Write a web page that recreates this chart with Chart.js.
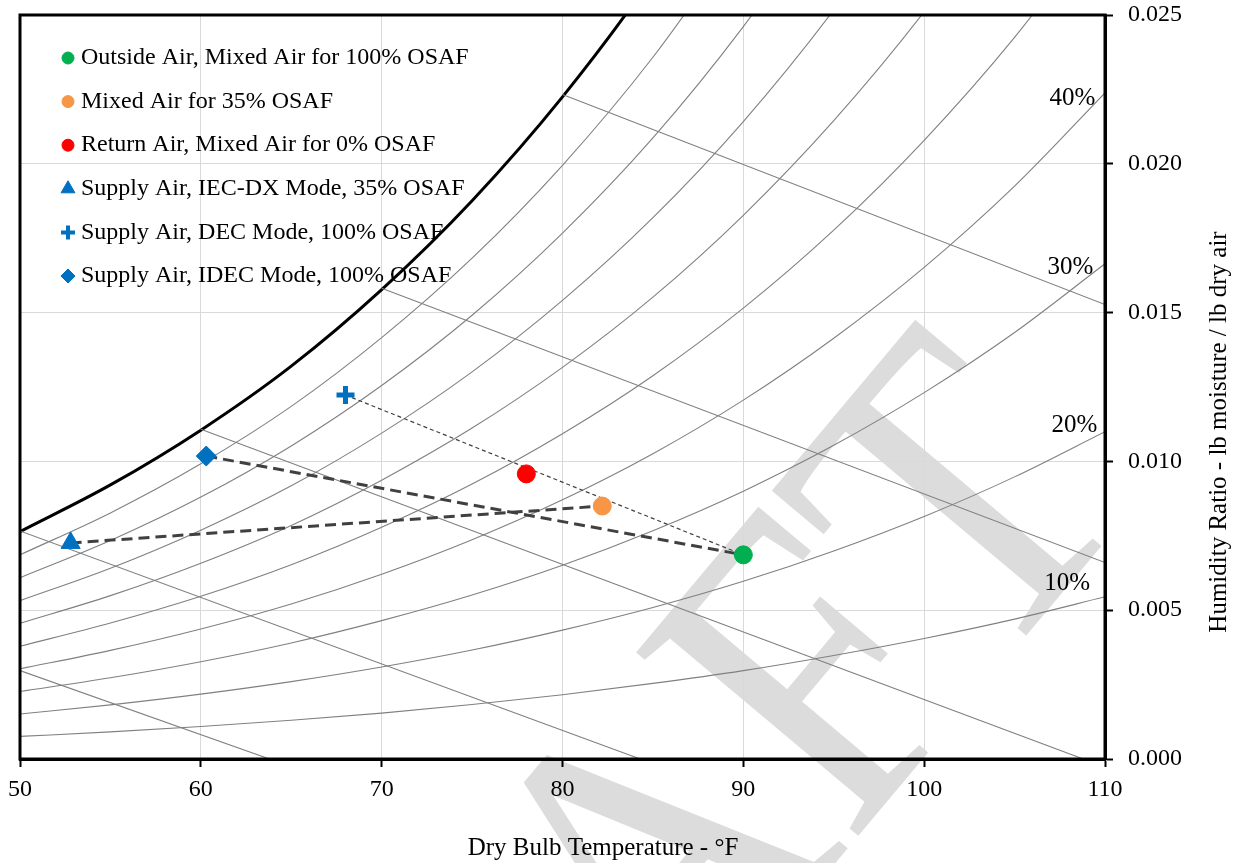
<!DOCTYPE html>
<html>
<head>
<meta charset="utf-8">
<script src="https://cdn.jsdelivr.net/npm/chart.js@4.4.1/dist/chart.umd.min.js"></script>
<style>
	html, body { margin: 0; padding: 0; background: #fff; }
	#wrap { width: 1239px; height: 863px; }
</style>
</head>
<body>
<div id="wrap"><canvas id="chart" width="1239" height="863"></canvas></div>
<script>
// dry bulb temperatures (°F) used for the relative humidity curves
const tempF = [50, 55, 60, 65, 70, 75, 80, 85, 90, 95, 100, 105, 110];

// humidity ratio (lb/lb)
const rh100 = [0.00764, 0.00921, 0.01105, 0.01320, 0.01577, 0.01876, 0.02225, 0.02631, 0.03106];
const rh90 = [0.00686, 0.00827, 0.00992, 0.01185, 0.01416, 0.01683, 0.01995, 0.02358, 0.02782];
const rh80 = [0.00609, 0.00734, 0.00880, 0.01052, 0.01255, 0.01491, 0.01767, 0.02087, 0.02461, 0.02893];
const rh70 = [0.00532, 0.00641, 0.00769, 0.00918, 0.01095, 0.01301, 0.01541, 0.01819, 0.02142, 0.02517, 0.02949];
const rh60 = [0.00456, 0.00549, 0.00658, 0.00785, 0.00937, 0.01112, 0.01316, 0.01552, 0.01827, 0.02145, 0.02511, 0.02933];
const rh50 = [0.00379, 0.00457, 0.00547, 0.00653, 0.00779, 0.00924, 0.01093, 0.01288, 0.01515, 0.01777, 0.02079, 0.02425, 0.02824];
const rh40 = [0.00303, 0.00365, 0.00437, 0.00521, 0.00621, 0.00737, 0.00871, 0.01026, 0.01206, 0.01414, 0.01652, 0.01925, 0.02238];
const rh30 = [0.00227, 0.00273, 0.00327, 0.00390, 0.00465, 0.00551, 0.00651, 0.00767, 0.00900, 0.01054, 0.01231, 0.01433, 0.01664];
const rh20 = [0.00151, 0.00182, 0.00218, 0.00260, 0.00309, 0.00366, 0.00433, 0.00509, 0.00597, 0.00699, 0.00815, 0.00948, 0.01100];
const rh10 = [0.00076, 0.00091, 0.00109, 0.00130, 0.00154, 0.00183, 0.00216, 0.00254, 0.00297, 0.00348, 0.00405, 0.00470, 0.00545];

// wet bulb lines: start / end points
const wbStartT = [50, 50, 60, 70, 80];
const wbStartW = [0.00297, 0.00766, 0.01108, 0.01582, 0.02233];
const wbEndT = [63.8, 84.3, 108.8, 110, 110];
const wbEndW = [0, 0, 0, 0.00660, 0.01527];

// state points
const pointNames = [
	'Outside Air, Mixed Air for 100% OSAF',
	'Mixed Air for 35% OSAF',
	'Return Air, Mixed Air for 0% OSAF',
	'Supply Air, IEC-DX Mode, 35% OSAF',
	'Supply Air, DEC Mode, 100% OSAF',
	'Supply Air, IDEC Mode, 100% OSAF'
];
const pointT = [90.0, 82.2, 78.0, 52.8, 68.0, 60.3];
const pointW = [0.00686, 0.00850, 0.00958, 0.00726, 0.01223, 0.01018];

// process lines (indices into the state points)
const processFrom = [3, 5, 4];
const processTo = [1, 0, 0];

// RH labels on the right
const rhLabels = ['40%', '30%', '20%', '10%'];
const rhLabelT = [109.46, 109.35, 109.57, 109.18];
const rhLabelW = [0.02221, 0.01653, 0.01122, 0.00591];

const serif = '"Liberation Serif", "Times New Roman", serif';

function curve(vals) {
	return vals.map((v, i) => ({x: tempF[i], y: v}));
}

let datasets = [];

// markers first so they draw on top
const markerStyle = [
	{pointStyle: 'circle', radius: 9, color: '#00b050', bw: 1},
	{pointStyle: 'circle', radius: 9, color: '#f79646', bw: 1},
	{pointStyle: 'circle', radius: 9, color: '#ff0000', bw: 1},
	{pointStyle: 'triangle', radius: 11, color: '#0070c0', bw: 1},
	{pointStyle: 'cross', radius: 9, color: '#0070c0', bw: 5},
	{pointStyle: 'rectRot', radius: 10, color: '#0070c0', bw: 1}
];
pointNames.forEach(function (name, i) {
	let m = markerStyle[i];
	datasets.push({
		label: name,
		data: [{x: pointT[i], y: pointW[i]}],
		showLine: false,
		pointStyle: m.pointStyle,
		pointRadius: m.radius,
		pointBackgroundColor: m.color,
		pointBorderColor: m.color,
		pointBorderWidth: m.bw
	});
});

processFrom.forEach(function (a, i) {
	let b = processTo[i];
	let thin = i === 2;
	datasets.push({
		label: 'process' + i,
		data: [{x: pointT[a], y: pointW[a]}, {x: pointT[b], y: pointW[b]}],
		showLine: true,
		pointRadius: 0,
		borderColor: '#404040',
		borderWidth: thin ? 1.2 : 3,
		borderDash: thin ? [4, 3] : [11, 6]
	});
});

[rh90, rh80, rh70, rh60, rh50, rh40, rh30, rh20, rh10].forEach(function (vals, i) {
	datasets.push({
		label: 'rh' + (90 - i * 10),
		data: curve(vals),
		showLine: true,
		pointRadius: 0,
		borderColor: '#808080',
		borderWidth: 1.1,
		cubicInterpolationMode: 'monotone'
	});
});

wbStartT.forEach(function (t, i) {
	datasets.push({
		label: 'wb' + i,
		data: [{x: t, y: wbStartW[i]}, {x: wbEndT[i], y: wbEndW[i]}],
		showLine: true,
		pointRadius: 0,
		borderColor: '#808080',
		borderWidth: 1.1
	});
});

datasets.push({
	label: 'saturation',
	data: curve(rh100),
	showLine: true,
	pointRadius: 0,
	borderColor: '#000000',
	borderWidth: 3,
	cubicInterpolationMode: 'monotone'
});

const decorPlugin = {
	id: 'decor',
	beforeDraw(chart) {
		let ctx = chart.ctx;
		ctx.save();
		ctx.fillStyle = '#ffffff';
		ctx.fillRect(0, 0, chart.width, chart.height);
		// watermark
		ctx.fillStyle = '#dcdcdc';
		ctx.font = '440px ' + serif;
		ctx.translate(1140, 500);
		ctx.rotate(-50 * Math.PI / 180);
		ctx.scale(0.88, 1);
		ctx.textAlign = 'right';
		ctx.textBaseline = 'alphabetic';
		ctx.fillText('DRAFT', 0, 0);
		ctx.restore();
	},
	afterDatasetsDraw(chart) {
		let ctx = chart.ctx;
		let a = chart.chartArea;
		let xs = chart.scales.x, ys = chart.scales.y;
		ctx.save();
		// frame
		ctx.strokeStyle = '#000';
		ctx.lineWidth = 3;
		ctx.strokeRect(a.left, a.top, a.right - a.left, a.bottom - a.top);

		// RH labels
		ctx.fillStyle = '#000';
		ctx.font = '25px ' + serif;
		ctx.textAlign = 'right';
		ctx.textBaseline = 'middle';
		rhLabels.forEach(function (txt, i) {
			ctx.fillText(txt, xs.getPixelForValue(rhLabelT[i]), ys.getPixelForValue(rhLabelW[i]));
		});

		// legend
		ctx.font = '24px ' + serif;
		ctx.textAlign = 'left';
		const legendSizes = [6, 6, 6, 8, 7, 7];
		pointNames.forEach(function (name, i) {
			let y = 58 + i * 43.6;
			let m = markerStyle[i];
			ctx.fillStyle = m.color;
			ctx.strokeStyle = m.color;
			ctx.lineWidth = m.pointStyle === 'cross' ? 4 : 1;
			Chart.helpers.drawPoint(ctx, {pointStyle: m.pointStyle, radius: legendSizes[i], borderWidth: ctx.lineWidth, rotation: 0}, 68, y);
			ctx.fillStyle = '#000';
			ctx.fillText(name, 81, y);
		});
		ctx.restore();
	},
	afterDraw(chart) {
		let ctx = chart.ctx;
		ctx.save();
		ctx.fillStyle = '#000';
		ctx.font = '25px ' + serif;
		ctx.textAlign = 'center';
		ctx.textBaseline = 'middle';
		ctx.fillText('Dry Bulb Temperature - °F', 603, 848);
		ctx.translate(1219, 432);
		ctx.rotate(-Math.PI / 2);
		ctx.fillText('Humidity Ratio - lb moisture / lb dry air', 0, 0);
		ctx.restore();
	}
};

new Chart(document.getElementById('chart'), {
	type: 'scatter',
	data: {datasets: datasets},
	options: {
		responsive: false,
		animation: false,
		events: [],
		layout: {padding: {left: 20, top: 15, right: 0, bottom: 0}},
		plugins: {
			legend: {display: false},
			tooltip: {enabled: false}
		},
		scales: {
			x: {
				type: 'linear',
				min: 50,
				max: 110,
				ticks: {stepSize: 10, color: '#000', padding: 8, font: {family: serif, size: 24}},
				grid: {color: '#d9d9d9', lineWidth: 1, tickColor: '#000', tickLength: 8, tickWidth: 2},
				border: {color: '#000', width: 3},
				afterFit: function (s) {
					s.height = 104;
					s.paddingLeft = 0;
					s.paddingRight = 0;
				}
			},
			y: {
				type: 'linear',
				position: 'right',
				min: 0,
				max: 0.025,
				ticks: {
					stepSize: 0.005, color: '#000', padding: 15, font: {family: serif, size: 24},
					callback: function (v) { return v.toFixed(3); }
				},
				grid: {color: '#d9d9d9', lineWidth: 1, tickColor: '#000', tickLength: 8, tickWidth: 2},
				border: {color: '#000', width: 3},
				afterFit: function (s) {
					s.width = 134;
					s.paddingTop = 0;
					s.paddingBottom = 0;
				}
			}
		}
	},
	plugins: [decorPlugin]
});
</script>
</body>
</html>
